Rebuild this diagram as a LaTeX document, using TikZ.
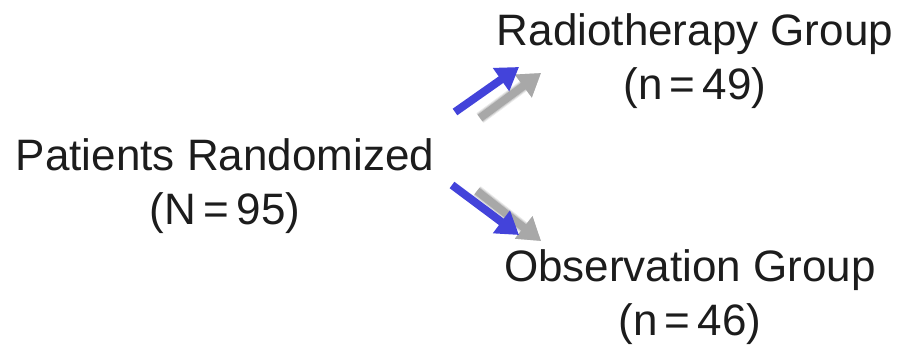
\documentclass[tikz,border=0pt]{standalone}
\usepackage{fontspec}
\setmainfont{Liberation Sans}
\usetikzlibrary{arrows.meta}
\definecolor{arrowblue}{HTML}{4343DA}
\definecolor{shadowgray}{HTML}{A8A8A8}
\definecolor{inkdark}{HTML}{1C1C1C}
\begin{document}
\begin{tikzpicture}[x=1pt,y=-1pt,
  label/.style={inner sep=0pt,text=inkdark,font=\fontsize{44}{54}\selectfont,align=center},
  flow/.style={line width=8pt,draw=arrowblue,-{Triangle[length=22pt,width=27pt]}},
  flowshadow/.style={line width=8pt,draw=shadowgray,-{Triangle[length=22pt,width=27pt]}}]
  \useasboundingbox (0,0) rectangle (899,350);

  % group labels
  \node[label] (rand) at (225,186) {Patients Randomized\\(N\,=\,95)};
  \node[label] (radio) at (695,61) {Radiotherapy Group\\(n\,=\,49)};
  \node[label] (obs) at (690,297) {Observation Group\\(n\,=\,46)};

  % arrow end points
  \coordinate (upS) at (455,112);
  \coordinate (upE) at (519,67);
  \coordinate (dnS) at (452,185);
  \coordinate (dnE) at (519,235);
  \coordinate (upSs) at (480,118);
  \coordinate (upEs) at (541,73);
  \coordinate (dnSs) at (477,191);
  \coordinate (dnEs) at (541,241);

  % soft shadows behind the arrows
  \foreach \w/\o in {12/0.25,10/0.4,8/1}{
    \draw[flowshadow,line width=\w pt,draw opacity=\o,fill opacity=\o] (upSs) -- (upEs);
    \draw[flowshadow,line width=\w pt,draw opacity=\o,fill opacity=\o] (dnSs) -- (dnEs);
  }
  \draw[flow] (upS) -- (upE);
  \draw[flow] (dnS) -- (dnE);
\end{tikzpicture}
\end{document}
